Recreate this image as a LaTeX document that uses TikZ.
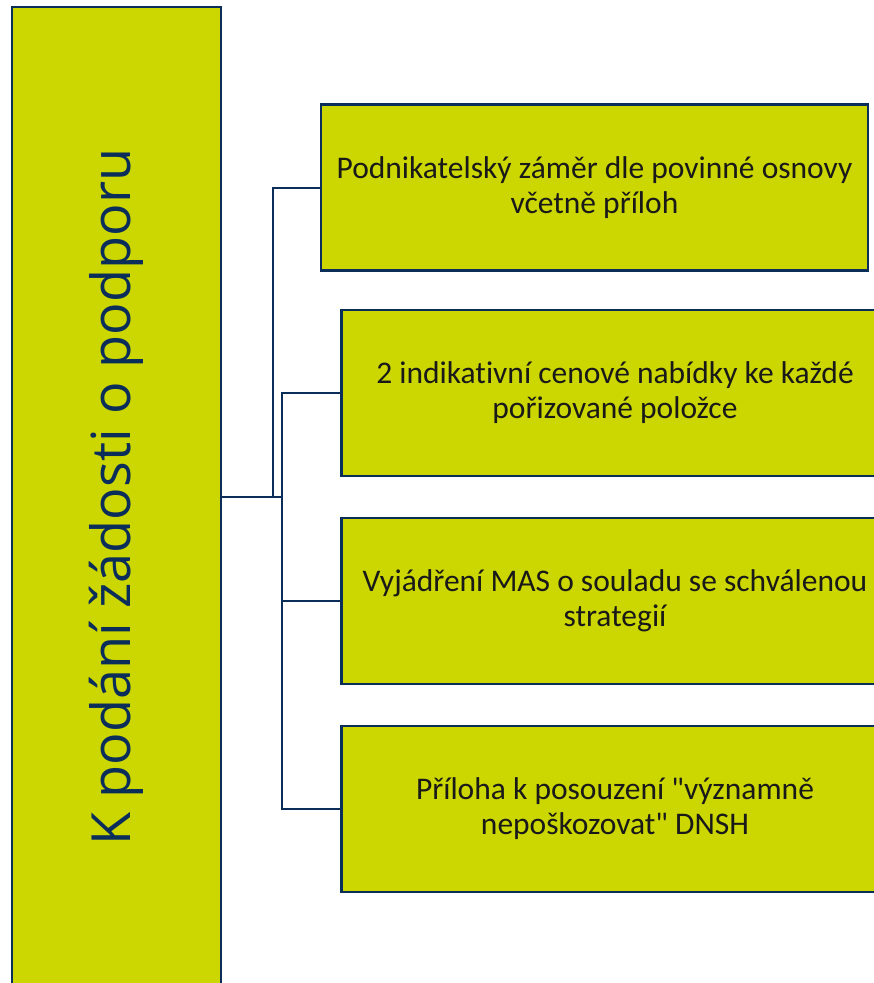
\documentclass[tikz,border=0pt]{standalone}
\usepackage{fontspec}
\setmainfont{Carlito}[Ligatures=CommonOff]
\newfontfamily\sidefont{Open Sans}
\definecolor{lime}{RGB}{204,214,0}
\definecolor{navy}{RGB}{10,45,90}
\definecolor{ink}{RGB}{25,25,25}
\tikzset{
  sidebox/.style={draw=navy, line width=2.5pt, fill=lime, minimum width=209pt, minimum height=980pt, inner sep=0pt, text=navy, font=\sidefont\fontsize{54}{60}\selectfont},
  itembox/.style={draw=navy, line width=2.5pt, fill=lime, minimum width=547pt, minimum height=166pt, inner sep=0pt, align=center, text=ink, font=\fontsize{31.5}{35}\selectfont},
  link/.style={draw=navy, line width=2pt}
}
\begin{document}
\begin{tikzpicture}[x=1pt,y=1pt]
\useasboundingbox (0,0) rectangle (874,-983);
\clip (0,0) rectangle (874,-983);
% Boxes
\node[sidebox] (side) at (116.5,-497) {\rotatebox{90}{K podání žádosti o podporu}};
\node[itembox] (plan) at (594.5,-187.5) {Podnikatelský záměr dle povinné osnovy\\včetně příloh};
\node[itembox] (offer) at (615,-393) {2 indikativní cenové nabídky ke každé\\pořizované položce};
\node[itembox] (mas) at (615,-601) {Vyjádření MAS o souladu se schválenou\\strategií};
\node[itembox] (dnsh) at (615,-809) {Příloha k posouzení \textquotedbl{}významně\\nepoškozovat\textquotedbl{} DNSH};
% Lines
\draw[link] (side.east) -- ++(51,0) |- (plan.west);
\draw[link] (side.east) -- ++(60,0) |- (offer.west);
\draw[link] (side.east) -- ++(60,0) |- (mas.west);
\draw[link] (side.east) -- ++(60,0) |- (dnsh.west);
\end{tikzpicture}
\end{document}
